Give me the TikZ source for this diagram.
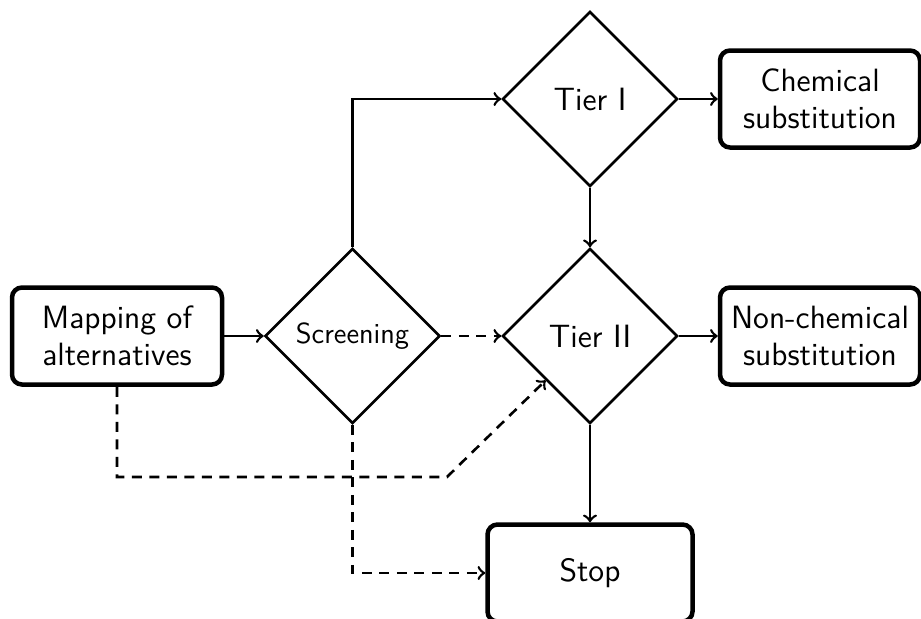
\documentclass[tikz,border=0pt]{standalone}
\usepackage{tikz}
\usetikzlibrary{shapes.geometric}
\tikzstyle{block}=[rectangle,draw,rounded corners=4pt,line width=1.8pt,minimum width=84pt,minimum height=38.8pt,align=center,font=\sffamily\fontsize{12.9}{14.8}\selectfont]
\tikzstyle{decision}=[diamond,draw,aspect=1,line width=1.05pt,minimum size=70pt,inner sep=0pt,font=\sffamily\fontsize{12.9}{14.8}\selectfont]
\tikzstyle{link}=[line width=1.05pt]
\tikzstyle{maybe}=[line width=1.05pt,dash pattern=on 4pt off 3pt]

\begin{document}
\begin{tikzpicture}[x=40pt, y=40pt]
\useasboundingbox (0, 0) rectangle (9.21, 6.18);
\node[block] at (1.17, 2.82) (map) {Mapping of\\alternatives};
\node[decision, font=\sffamily\fontsize{11.6}{14}\selectfont] at (3.525, 2.82) (screen) {Screening};
\node[decision] at (5.90, 5.19) (tier1) {Tier I};
\node[decision] at (5.90, 2.82) (tier2) {Tier II};
\node[block, minimum width=80pt] at (8.20, 5.19) (chem) {Chemical\\substitution};
\node[block, minimum width=80pt] at (8.20, 2.82) (nonchem) {Non-chemical\\substitution};
\node[block, minimum width=82pt] at (5.90, 0.45) (stop) {Stop};
\coordinate (kink) at (4.47, 1.41);
\draw[->, link] (map) -- (screen);
\draw[->, link] (screen.north) |- (tier1.west);
\draw[->, link] (tier1.east) -- (chem.west);
\draw[->, link] (tier1.south) -- (tier2.north);
\draw[->, link] (tier2.east) -- (nonchem.west);
\draw[->, link] (tier2.south) -- (stop.north);
\draw[->, maybe] (screen.east) -- (tier2.west);
\draw[->, maybe] (screen.south) |- (stop.west);
\draw[->, maybe] (map.south) |- (kink) -- (tier2.south west);
\end{tikzpicture}
\end{document}
